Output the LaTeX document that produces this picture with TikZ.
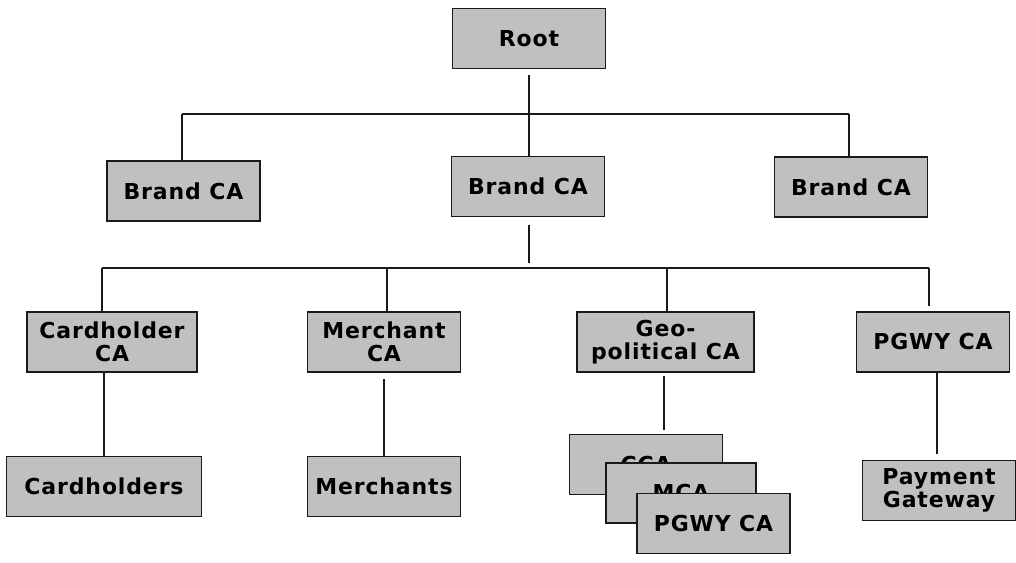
\documentclass[tikz,border=0pt]{standalone}
\usepackage{fontspec}
\usetikzlibrary{positioning}
\newfontfamily\cafont{DejaVu Sans}[LetterSpace=4]
\definecolor{cagray}{HTML}{C0C0C0}
\definecolor{caline}{HTML}{1A1A1A}

\begin{document}
\begin{tikzpicture}[x=0.02cm, y=-0.02cm,
        ca/.style={draw=caline, rectangle, fill=cagray, line width=1.1pt,
            minimum width=3.06cm, minimum height=1.2cm, inner sep=0pt,
            align=center, font=\cafont\bfseries\fontsize{12.5}{13}\selectfont},
        link/.style={draw=caline, line width=1.1pt}]
            \useasboundingbox (0,0) rectangle (1016,563);

            \draw (529,38.5) node [ca] (root) {Root};
            \draw (183.5,191) node [ca] (brand 1) {Brand CA};
            \draw (528,186.5) node [ca] (brand 2) {Brand CA};
            \draw (851,187) node [ca] (brand 3) {Brand CA};

            \draw (112,342) node [ca, minimum width=3.4cm] (chca) {Cardholder\\CA};
            \draw (384,342) node [ca] (mca) {Merchant\\CA};
            \draw (665.5,342) node [ca, minimum width=3.54cm] (geo) {Geo-\\political CA};
            \draw (933,342) node [ca] (pgwy) {PGWY CA};

            \draw (104,486.5) node [ca, minimum width=3.9cm] (cardholders) {Cardholders};
            \draw (384,486.5) node [ca] (merchants) {Merchants};
            \draw (646,464.5) node [ca] (geo cca) {CCA};
            \draw (681,493) node [ca, minimum width=3cm] (geo mca) {MCA};
            \draw (713.5,523.5) node [ca] (geo pgwy) {PGWY CA};
            \draw (939,490.5) node [ca] (gateway) {Payment\\Gateway};

            \coordinate (bar1 w) at (182,114);
            \coordinate (bar1 e) at (849,114);
            \coordinate (bar2 w) at (102,268);
            \coordinate (bar2 e) at (929,268);
            \coordinate (bar2 hub) at (529,268);
            \coordinate (bar2 mca) at (387,268);
            \coordinate (bar2 geo) at (667,268);
            \coordinate (geo drop) at (664,376);
            \coordinate (pgwy drop) at (937,372);

            \draw[link] (bar1 w) -- (bar1 e);
            \draw[link, shorten <=0.12cm] (root) -- (root |- brand 2.north);
            \draw[link] (bar1 w) -- (bar1 w |- brand 1.north);
            \draw[link] (bar1 e) -- (bar1 e |- brand 3.north);

            \draw[link, shorten <=0.16cm, shorten >=0.1cm] (brand 2.south -| bar2 hub) -- (bar2 hub);
            \draw[link] (bar2 w) -- (bar2 e);
            \draw[link] (bar2 w) -- (bar2 w |- chca.north);
            \draw[link] (bar2 mca) -- (bar2 mca |- mca.north);
            \draw[link] (bar2 geo) -- (bar2 geo |- geo.north);
            \draw[link, shorten >=0.1cm] (bar2 e) -- (bar2 e |- pgwy.north);

            \draw[link] (chca.south -| cardholders) -- (cardholders.north);
            \draw[link, shorten <=0.12cm] (mca) -- (merchants);
            \draw[link, shorten >=0.08cm] (geo drop) -- (geo drop |- geo cca.north);
            \draw[link, shorten >=0.12cm] (pgwy drop) -- (pgwy drop |- gateway.north);
        \end{tikzpicture}
\end{document}
